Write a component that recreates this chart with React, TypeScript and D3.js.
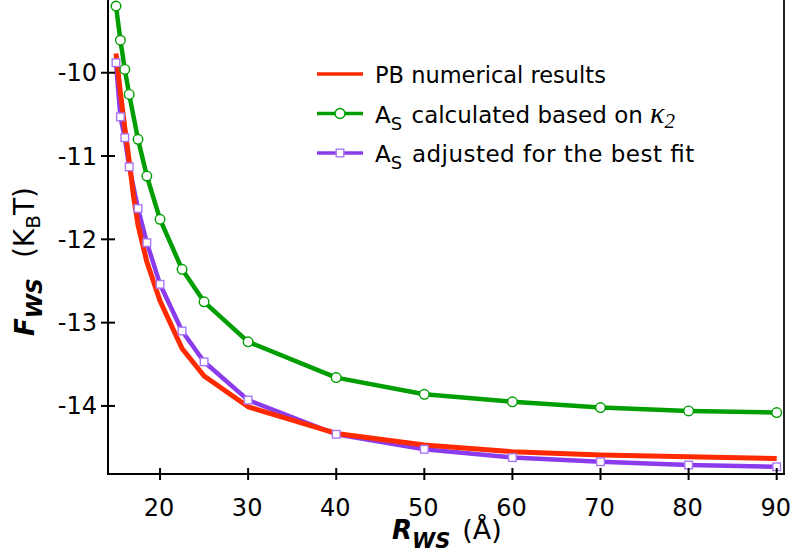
import React from "react";
import * as d3 from "d3";

// Wigner–Seitz cell radius (Å) and free energy (kBT)
const rPB = [15, 15.5, 16, 16.5, 17, 17.5, 18.5, 20, 22.5, 25, 30, 40, 50, 60, 70, 80, 90];
const fPB = [-9.77, -10.24, -10.66, -11.06, -11.49, -11.83, -12.27, -12.74, -13.31, -13.64, -14.01, -14.33, -14.47, -14.55, -14.59, -14.61, -14.63];

const rModel = [15, 15.5, 16, 16.5, 17.5, 18.5, 20, 22.5, 25, 30, 40, 50, 60, 70, 80, 90];
const fKappa = [-9.2, -9.61, -9.96, -10.26, -10.8, -11.24, -11.76, -12.36, -12.75, -13.23, -13.66, -13.86, -13.95, -14.02, -14.06, -14.08];
const fBestFit = [-9.88, -10.53, -10.78, -11.13, -11.63, -12.04, -12.54, -13.1, -13.47, -13.93, -14.34, -14.52, -14.62, -14.67, -14.71, -14.73];

const xTicks = [20, 30, 40, 50, 60, 70, 80, 90];
const yTicks = [-10, -11, -12, -13, -14];

const W = 796;
const H = 559;
const left = 108;
const right = 784;
const top = 0;
const bottom = 474;

const RED = "#ff2a00";
const GREEN = "#009e00";
const PURPLE = "#8a3cec";
const PURPLE_MARK = "#a878f6";
const FONT = "DejaVu Sans, Verdana, sans-serif";

export default function App() {
  const x = d3.scaleLinear().domain([14.092, 90.83]).range([left, right]);
  const y = d3.scaleLinear().domain([-9.127, -14.817]).range([top, bottom]);

  const pbLine = d3
    .line<number>()
    .x((_, i) => x(rPB[i]))
    .y((d) => y(d));
  const modelLine = d3
    .line<number>()
    .x((_, i) => x(rModel[i]))
    .y((d) => y(d));

  const legendX0 = 317;
  const legendX1 = 363;
  const legendText = 375;
  const rows = [74, 113.5, 153];

  return (
    <svg
      width={W}
      height={H}
      style={{ position: "absolute", left: 0, top: 0, background: "#fff" }}
      fontFamily={FONT}
    >
      <rect x={0} y={0} width={W} height={H} fill="#fff" />

      {/* series */}
      <path d={modelLine(fKappa) ?? ""} fill="none" stroke={GREEN} strokeWidth={4.5} strokeLinejoin="round" />
      <path d={modelLine(fBestFit) ?? ""} fill="none" stroke={PURPLE} strokeWidth={4.5} strokeLinejoin="round" />
      <path d={pbLine(fPB) ?? ""} fill="none" stroke={RED} strokeWidth={5} strokeLinejoin="round" />

      {fKappa.map((v, i) => (
        <circle key={"g" + i} cx={x(rModel[i])} cy={y(v)} r={4.8} fill="#fff" stroke={GREEN} strokeWidth={1.4} />
      ))}
      {fBestFit.map((v, i) => (
        <rect
          key={"p" + i}
          x={x(rModel[i]) - 3.8}
          y={y(v) - 3.8}
          width={7.6}
          height={7.6}
          fill="#fff"
          stroke={PURPLE_MARK}
          strokeWidth={1.4}
        />
      ))}

      {/* frame */}
      <line x1={left} y1={top - 2} x2={left} y2={bottom} stroke="#000" strokeWidth={2} />
      <line x1={right} y1={top - 2} x2={right} y2={bottom} stroke="#222" strokeWidth={2} />
      <line x1={left - 1} y1={bottom} x2={right + 1} y2={bottom} stroke="#000" strokeWidth={2} />

      {/* x axis */}
      {xTicks.map((t) => (
        <g key={"xt" + t}>
          <line x1={x(t)} x2={x(t)} y1={bottom - 6} y2={bottom + 6} stroke="#000" strokeWidth={2} />
          <text x={x(t) - 1} y={516} fontSize={24} textAnchor="middle" fill="#000">
            {t}
          </text>
        </g>
      ))}

      {/* y axis */}
      {yTicks.map((t) => (
        <g key={"yt" + t}>
          <line x1={left - 7} x2={left + 7} y1={y(t)} y2={y(t)} stroke="#000" strokeWidth={2} />
          <text x={97} y={y(t) + 8.5} fontSize={24} textAnchor="end" fill="#000">
            {t}
          </text>
        </g>
      ))}

      {/* axis titles */}
      <text x={392} y={539} fontSize={26} fill="#000">
        <tspan fontWeight="bold" fontStyle="italic">R</tspan>
        <tspan fontWeight="bold" fontStyle="italic" fontSize={21} dy={9}>WS</tspan>
        <tspan dy={-9} dx={12} fontSize={27}>(Å)</tspan>
      </text>
      <text transform="translate(34,336) rotate(-90)" fontSize={26} fill="#000">
        <tspan fontWeight="bold" fontStyle="italic">F</tspan>
        <tspan fontWeight="bold" fontStyle="italic" fontSize={22} dy={8}>WS</tspan>
        <tspan dy={-8} dx={20} fontSize={28}>(K</tspan>
        <tspan fontSize={20} dy={6}>B</tspan>
        <tspan fontSize={28} dy={-6}>T)</tspan>
      </text>

      {/* legend */}
      <line x1={legendX0} x2={legendX1} y1={rows[0]} y2={rows[0]} stroke={RED} strokeWidth={3.5} />
      <text x={legendText} y={rows[0] + 8.5} fontSize={22.5} fill="#000">
        PB numerical results
      </text>

      <line x1={legendX0} x2={legendX1} y1={rows[1]} y2={rows[1]} stroke={GREEN} strokeWidth={3.5} />
      <circle cx={(legendX0 + legendX1) / 2} cy={rows[1]} r={5} fill="#fff" stroke={GREEN} strokeWidth={1.4} />
      <text x={legendText} y={rows[1] + 9.5} fontSize={23} fill="#000">
        <tspan>A</tspan>
        <tspan fontSize={18} dy={7}>S</tspan>
        <tspan dy={-7} dx={2}> calculated based on </tspan>
        <tspan fontFamily="Liberation Serif, serif" fontStyle="italic" fontSize={30}>κ</tspan>
        <tspan fontFamily="Liberation Serif, serif" fontStyle="italic" fontSize={21} dy={5}>2</tspan>
      </text>

      <line x1={legendX0} x2={legendX1} y1={rows[2]} y2={rows[2]} stroke={PURPLE} strokeWidth={3.5} />
      <rect
        x={(legendX0 + legendX1) / 2 - 3.8}
        y={rows[2] - 3.8}
        width={7.6}
        height={7.6}
        fill="#fff"
        stroke={PURPLE_MARK}
        strokeWidth={1.4}
      />
      <text x={legendText} y={rows[2] + 9} fontSize={23} fill="#000">
        <tspan>A</tspan>
        <tspan fontSize={18} dy={7}>S</tspan>
        <tspan dy={-7} dx={2} textLength={290} lengthAdjust="spacing"> adjusted for the best fit</tspan>
      </text>
    </svg>
  );
}
